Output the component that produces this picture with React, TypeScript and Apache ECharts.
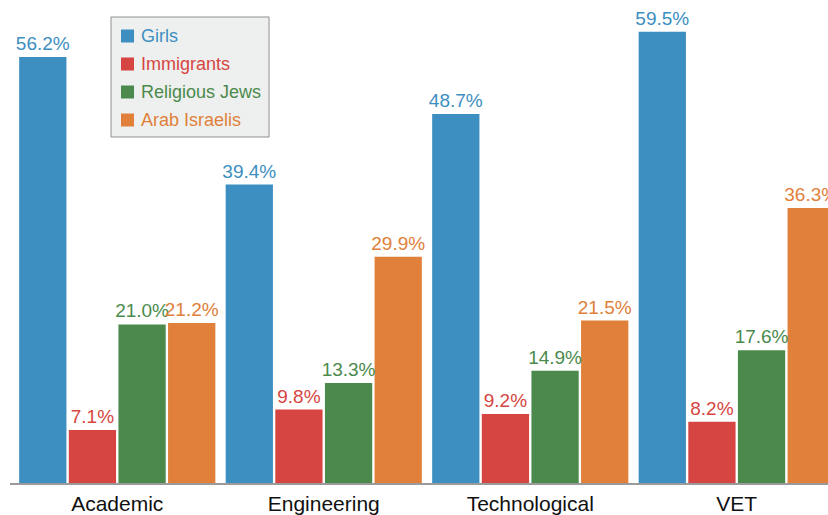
import React, { useEffect, useRef } from "react";
import * as echarts from "echarts";

const categories = ["Academic", "Engineering", "Technological", "VET"];
const seriesNames = ["Girls", "Immigrants", "Religious Jews", "Arab Israelis"];
const girls = [56.2, 39.4, 48.7, 59.5];
const immigrants = [7.1, 9.8, 9.2, 8.2];
const religiousJews = [21.0, 13.3, 14.9, 17.6];
const arabIsraelis = [21.2, 29.9, 21.5, 36.3];
const colors = ["#3d8fc1", "#d64541", "#4b8a4c", "#e0803a"];

export default function App() {
  const ref = useRef<HTMLDivElement>(null);
  useEffect(() => {
    if (!ref.current) return;
    const chart = echarts.init(ref.current, null, { renderer: "svg" });
    const values = [girls, immigrants, religiousJews, arabIsraelis];
    const font = "'Liberation Sans', Arial, sans-serif";
    chart.setOption({
      animation: false,
      backgroundColor: "#ffffff",
      textStyle: { fontFamily: font },
      grid: {
        left: 14,
        width: 826,
        top: 28,
        bottom: 31,
        containLabel: false,
        outerBoundsMode: "none",
      },
      legend: {
        orient: "vertical",
        left: 111,
        top: 17,
        backgroundColor: "#eef0ef",
        borderColor: "#8f8f8f",
        borderWidth: 1,
        borderRadius: 0,
        padding: [10, 8, 8, 10],
        itemWidth: 13,
        itemHeight: 13,
        itemGap: 10,
        itemStyle: { borderWidth: 0 },
        icon: "rect",
        textStyle: { fontSize: 18, fontFamily: font, padding: [0, 0, 0, 2] },
        data: seriesNames.map((n, i) => ({ name: n, textStyle: { color: colors[i] } })),
      },
      xAxis: {
        type: "category",
        data: categories,
        axisLine: { show: false },
        axisTick: { show: false },
        axisLabel: { color: "#111", fontSize: 21, fontFamily: font, margin: 9 },
      },
      yAxis: {
        type: "value",
        min: 0,
        max: 60,
        show: false,
        splitLine: { show: false },
      },
      graphic: [
        {
          type: "line",
          shape: { x1: 10, y1: 484, x2: 828, y2: 484 },
          style: { stroke: "#9a9a9a", lineWidth: 2 },
          z: 10,
        },
      ],
      series: seriesNames.map((n, i) => ({
        name: n,
        type: "bar",
        data: values[i],
        barGap: "5%",
        barCategoryGap: "5%",
        itemStyle: { color: colors[i] },
        label: {
          show: true,
          position: "top",
          distance: 4,
          color: colors[i],
          fontSize: 19,
          fontFamily: font,
          formatter: (p: any) => p.value.toFixed(1) + "%",
        },
      })),
    });
    return () => chart.dispose();
  }, []);
  return <div ref={ref} style={{ width: 828, height: 515, position: "fixed", left: 0, top: 0 }} />;
}
